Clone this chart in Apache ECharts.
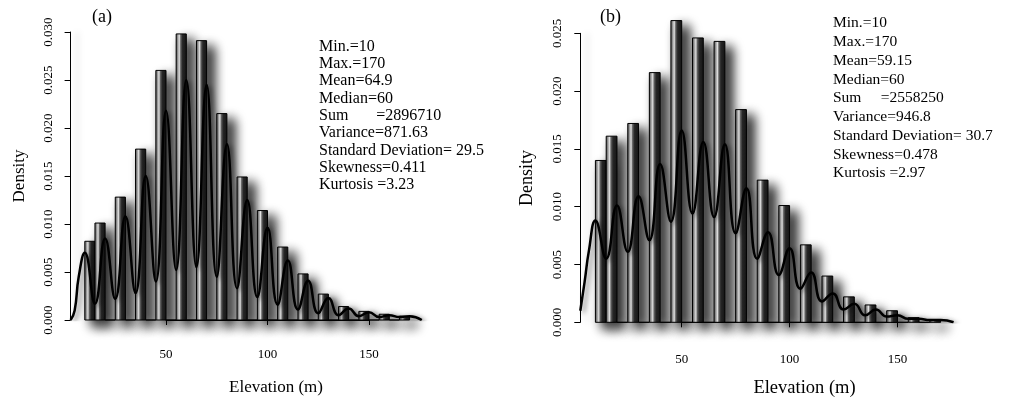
<!DOCTYPE html>
<html><head><meta charset="utf-8">
<script src="https://cdn.jsdelivr.net/npm/echarts@6/dist/echarts.min.js"></script>
<style>html,body{margin:0;padding:0;background:#fff}#c{width:1010px;height:400px}</style>
</head><body><div id="c"></div>
<script>
// Histogram bins (elevation, m), 5 m wide, 10..170
const binLeft  = [10,15,20,25,30,35,40,45,50,55,60,65,70,75,80,85,90,95,100,105,110,115,120,125,130,135,140,145,150,155,160,165];
const binRight = [15,20,25,30,35,40,45,50,55,60,65,70,75,80,85,90,95,100,105,110,115,120,125,130,135,140,145,150,155,160,165,170];
// Bar densities (empty bins are 0)
const histA = [0.0082,0.0101,0,0.0128,0,0.0178,0,0.0260,0,0.0298,0,0.0291,0,0.0215,0,0.0149,0,0.0114,0,0.0076,0,0.0048,0,0.0027,0,0.0014,0,0.0009,0,0.0006,0,0.0004];
const histB = [0.0140,0.0161,0,0.0172,0,0.0216,0,0.0261,0,0.0246,0,0.0243,0,0.0184,0,0.0123,0,0.0101,0,0.0067,0,0.0040,0,0.0022,0,0.0015,0,0.0010,0,0.0004,0,0.0002];
// Kernel density curve
const kdeX = [3,5,7,10,15,20,25,30,35,40,45,50,55,60,65,70,75,80,85,90,95,100,105,110,115,120,125,130,135,140,145,150,155,160,165,170,176];
const kdeA = [0,0.0010,0.0045,0.0070,0.0017,0.0085,0.0022,0.0108,0.0028,0.0150,0.0040,0.0218,0.0052,0.0250,0.0055,0.0245,0.0045,0.0183,0.0033,0.0125,0.0024,0.0096,0.0016,0.0062,0.0011,0.0041,0.0007,0.0023,0.0005,0.0012,0.0004,0.0008,0.0003,0.0005,0.0003,0.0004,0.0000];
const kdeB = [0.0010,0.0035,0.0062,0.0088,0.0055,0.0101,0.0061,0.0109,0.0071,0.0137,0.0087,0.0166,0.0094,0.0156,0.0091,0.0154,0.0077,0.0116,0.0055,0.0078,0.0041,0.0064,0.0029,0.0043,0.0018,0.0025,0.0011,0.0016,0.0006,0.0011,0.0005,0.0006,0.0003,0.0003,0.0002,0.0002,0.0000];
// Tick settings
const yMaxA = 0.030, yMaxB = 0.025, yStep = 0.005;
const xTickMin = 50, xTickMax = 150, xTickStep = 50;
// Stats text
const statsA = ['Min.=10','Max.=170','Mean=64.9','Median=60','Sum       =2896710','Variance=871.63','Standard Deviation= 29.5','Skewness=0.411','Kurtosis =3.23'];
const statsB = ['Min.=10','Max.=170','Mean=59.15','Median=60','Sum     =2558250','Variance=946.8','Standard Deviation= 30.7','Skewness=0.478','Kurtosis =2.97'];

const FONT = 'Liberation Serif';
const chart = echarts.init(document.getElementById('c'));

function barGrad(){
  return new echarts.graphic.LinearGradient(0,0,1,0,[
    {offset:0,color:'#4a4a4a'},{offset:0.15,color:'#8a8a8a'},{offset:0.33,color:'#ececec'},
    {offset:0.45,color:'#6a6a6a'},{offset:0.62,color:'#2a2a2a'},{offset:1,color:'#151515'}]);
}
function renderBar(params, api){
  const p0 = api.coord([api.value(0), api.value(2)]);
  const p1 = api.coord([api.value(1), 0]);
  return {type:'rect', shape:{x:p0[0], y:p0[1], width:p1[0]-p0[0], height:p1[1]-p0[1]},
    style:{fill:barGrad(), stroke:'#000', lineWidth:1, shadowBlur:12, shadowColor:'rgba(0,0,0,1)', shadowOffsetX:7, shadowOffsetY:6}};
}
function yAx(gi, max){
  return {type:'value', gridIndex:gi, min:0, max:max, interval:yStep,
    axisLine:{show:true, lineStyle:{color:'#000', width:1, shadowColor:'rgba(0,0,0,0.25)', shadowBlur:6, shadowOffsetX:7}},
    axisTick:{show:true, inside:false, length:6, lineStyle:{color:'#000'}},
    axisLabel:{rotate:90, margin:16, fontFamily:FONT, fontSize:13, color:'#000', formatter:v=>v.toFixed(3)},
    splitLine:{show:false}};
}
function xMain(gi){ return {type:'value', gridIndex:gi, min:3, max:180, show:false}; }
function xTick(gi, off, margin){
  return {type:'value', gridIndex:gi, min:xTickMin, max:xTickMax, interval:xTickStep, position:'bottom', offset:off,
    axisLine:{show:true, lineStyle:{color:'#000', width:1}},
    axisTick:{show:true, inside:false, length:5, lineStyle:{color:'#000'}},
    axisLabel:{margin:margin, fontFamily:FONT, fontSize:13, color:'#000', showMinLabel:true, showMaxLabel:true},
    splitLine:{show:false}};
}
const barsA = binLeft.map((l,i)=>[l, binRight[i], histA[i]]);
const barsB = binLeft.map((l,i)=>[l, binRight[i], histB[i]]);
const lineA = kdeX.map((x,i)=>[x, kdeA[i]]);
const lineB = kdeX.map((x,i)=>[x, kdeB[i]]);

function txt(x,y,text,size,opts){
  return {type:'text', x:x, y:y, style:Object.assign({text:text, fontFamily:FONT, fontSize:size, fill:'#000'}, opts||{})};
}

chart.setOption({
  animation:false,
  grid:[
    {left:70.6, width:359.3, top:32, height:288},
    {left:166, width:203, top:32, height:288},
    {left:580.3, width:381.9, top:33.3, height:289},
    {left:681.7, width:215.8, top:33.3, height:289}
  ],
  xAxis:[xMain(0), xTick(1,13,15), xMain(2), xTick(3,12,19)],
  yAxis:[yAx(0,yMaxA), {type:'value', gridIndex:1, min:0, max:yMaxA, show:false},
         yAx(2,yMaxB), {type:'value', gridIndex:3, min:0, max:yMaxB, show:false}],
  series:[
    {type:'custom', xAxisIndex:0, yAxisIndex:0, data:barsA, renderItem:renderBar, encode:{x:[0,1], y:2}, clip:false, z:2},
    {type:'line', xAxisIndex:0, yAxisIndex:0, data:lineA, smooth:0.5, showSymbol:false, z:5,
      lineStyle:{color:'#000', width:2.5, shadowColor:'rgba(0,0,0,0.5)', shadowBlur:5, shadowOffsetX:3, shadowOffsetY:2}},
    {type:'custom', xAxisIndex:2, yAxisIndex:2, data:barsB, renderItem:renderBar, encode:{x:[0,1], y:2}, clip:false, z:2},
    {type:'line', xAxisIndex:2, yAxisIndex:2, data:lineB, smooth:0.5, showSymbol:false, z:5,
      lineStyle:{color:'#000', width:2.5, shadowColor:'rgba(0,0,0,0.5)', shadowBlur:5, shadowOffsetX:3, shadowOffsetY:2}}
  ],
  graphic:[
    txt(92, 8, '(a)', 18),
    txt(600, 8, '(b)', 18),
    txt(319, 38, statsA.join('\n'), 16, {lineHeight:17.3}),
    txt(833, 14, statsB.join('\n'), 15.5, {lineHeight:18.75}),
    txt(276, 388, 'Elevation (m)', 17, {align:'center', verticalAlign:'middle'}),
    txt(804.5, 388, 'Elevation (m)', 18.5, {align:'center', verticalAlign:'middle'}),
    Object.assign(txt(20, 176, 'Density', 17, {align:'center', verticalAlign:'middle'}), {rotation:Math.PI/2}),
    Object.assign(txt(527, 178, 'Density', 18, {align:'center', verticalAlign:'middle'}), {rotation:Math.PI/2})
  ]
});
</script></body></html>
